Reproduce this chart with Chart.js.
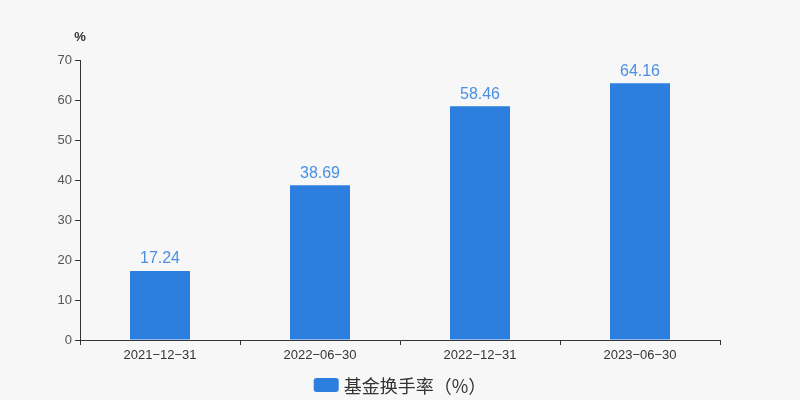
<!DOCTYPE html>
<html><head><meta charset="utf-8">
<script src="https://cdn.jsdelivr.net/npm/chart.js@4/dist/chart.umd.min.js"></script>
<style>html,body{margin:0;padding:0;background:#f7f7f7;}#wrap{width:800px;height:400px;}</style>
</head><body><div id="wrap"><canvas id="c" width="800" height="400"></canvas></div>
<script>
const categories = ['2021-12-31', '2022-06-30', '2022-12-31', '2023-06-30'];
const turnover = [17.24, 38.69, 58.46, 64.16];
const yTicks = [0, 10, 20, 30, 40, 50, 60, 70];
const seriesName = '基金换手率（%）';
const unitLabel = '%';

const FONT = '"Liberation Sans", Arial, "Noto Sans CJK SC", sans-serif';
const BAR = '#2c7fde';
const LABEL = '#4a8fe3';

const extras = {
  id: 'extras',
  afterDatasetsDraw(chart) {
    const ctx = chart.ctx;
    const meta = chart.getDatasetMeta(0);
    ctx.save();
    ctx.font = '16px ' + FONT;
    ctx.fillStyle = LABEL;
    ctx.textAlign = 'center';
    ctx.textBaseline = 'bottom';
    meta.data.forEach((el, i) => {
      ctx.fillText(turnover[i].toFixed(2), el.x, el.y - 4);
    });
    ctx.restore();
  },
  afterDraw(chart) {
    const ctx = chart.ctx;
    const area = chart.chartArea;
    ctx.save();
    ctx.font = 'bold 13px ' + FONT;
    ctx.fillStyle = '#333';
    ctx.textAlign = 'center';
    ctx.textBaseline = 'middle';
    ctx.fillText(unitLabel, area.left, 37);
    // legend
    ctx.font = '18px "Noto Sans CJK SC", ' + FONT;
    const tw = ctx.measureText(seriesName).width;
    const bw = 25, bh = 14, gap = 5;
    const total = bw + gap + tw;
    const x0 = 400 - total / 2;
    const cy = 385;
    ctx.fillStyle = BAR;
    ctx.beginPath();
    ctx.roundRect(x0, cy - bh / 2, bw, bh, 3);
    ctx.fill();
    ctx.fillStyle = '#333';
    ctx.textAlign = 'left';
    ctx.fillText(seriesName, x0 + bw + gap, cy + 1);
    ctx.restore();
  }
};

new Chart(document.getElementById('c'), {
  type: 'bar',
  data: {
    labels: categories,
    datasets: [{
      label: seriesName,
      data: turnover,
      backgroundColor: BAR,
      barPercentage: 0.375,
      categoryPercentage: 1
    }]
  },
  options: {
    responsive: false,
    animation: false,
    devicePixelRatio: 1,
    layout: { padding: { left: 0, right: 80, top: 60, bottom: 0 } },
    plugins: { legend: { display: false }, tooltip: { enabled: false } },
    scales: {
      x: {
        grid: { display: true, drawOnChartArea: false, drawTicks: true, tickLength: 5, offset: true, color: '#333' },
        border: { display: true, color: '#333', width: 1 },
        ticks: {
          color: '#333', font: { size: 13, family: FONT }, padding: 3,
          callback(v) { return categories[v].replace(/-/g, '\u2212'); }
        },
        afterFit(s) { s.height = 60; }
      },
      y: {
        min: 0, max: 70,
        afterBuildTicks(s) { s.ticks = yTicks.map(v => ({ value: v })); },
        grid: { display: true, drawOnChartArea: false, drawTicks: true, tickLength: 5, color: '#333' },
        border: { display: true, color: '#333', width: 1 },
        ticks: { color: '#555', font: { size: 13, family: FONT }, padding: 3 },
        afterFit(s) { s.width = 80; }
      }
    }
  },
  plugins: [extras]
});
</script></body></html>
